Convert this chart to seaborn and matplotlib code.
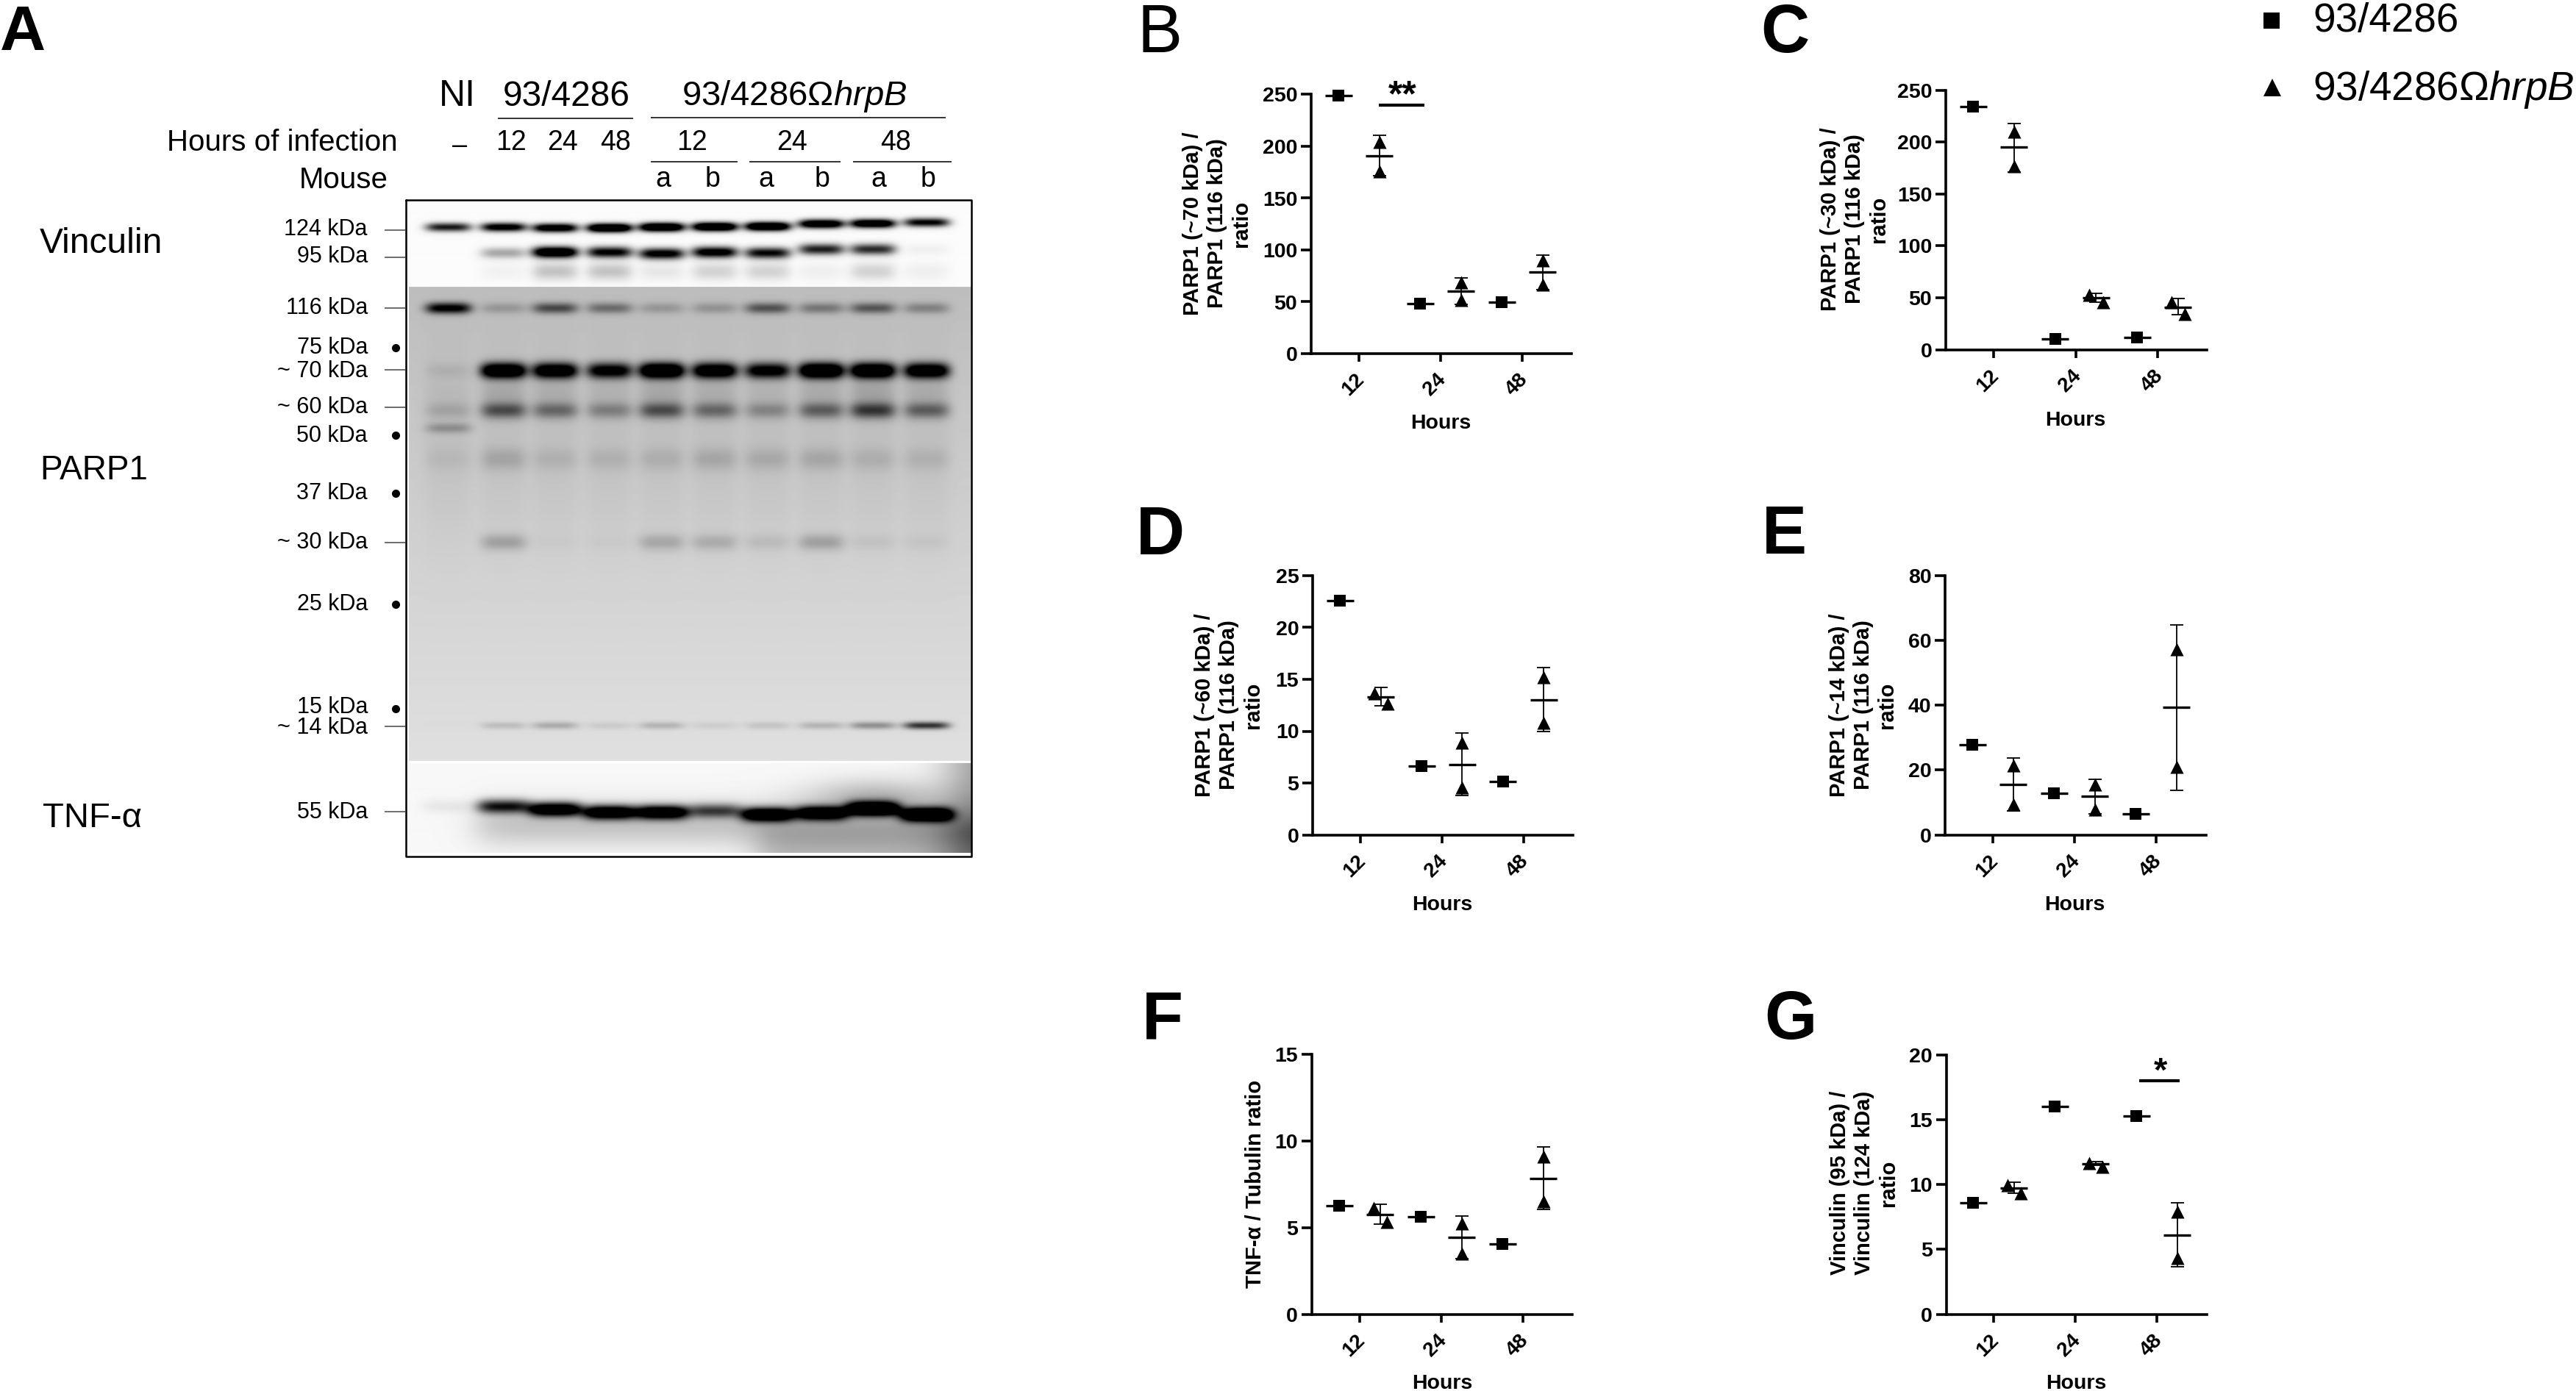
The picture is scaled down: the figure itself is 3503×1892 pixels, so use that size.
import numpy as np
import pandas as pd
import matplotlib
matplotlib.use("Agg")
import matplotlib.pyplot as plt
from matplotlib.transforms import ScaledTranslation
import seaborn as sns

sns.set_theme(style="ticks")
plt.rcParams['font.family'] = ['Liberation Sans', 'DejaVu Sans']
plt.rcParams['mathtext.fontset'] = 'custom'
plt.rcParams['mathtext.rm'] = 'Liberation Sans'
plt.rcParams['mathtext.it'] = 'Liberation Sans:italic'
plt.rcParams['mathtext.bf'] = 'Liberation Sans:bold'

HOURS = ['12', '24', '48']
STRAIN_A = '93/4286'
STRAIN_B = '93/4286$\\mathit{Ω hrpB}$'

# ---- values ----
B_SQ = [249, 48.2, 49.9]
B_T1 = [204, 68.6, 90]
B_T2 = [176, 51.6, 66.4]
B_MEAN = [191, 60.2, 78.7]
B_HI = [210.5, 72.8, 95.3]
B_LO = [171.5, 47.5, 61.6]

C_SQ = [233.8, 10.6, 11.8]
C_T1 = [210, 52.6, 45.6]
C_T2 = [176.6, 45.6, 34.4]
C_MEAN = [194.8, 50, 41]
C_HI = [217.8, 54.3, 49.3]
C_LO = [171.3, 45.4, 33.3]

D_SQ = [22.6, 6.6, 5.16]
D_T1 = [13.66, 8.92, 15.2]
D_T2 = [12.65, 4.55, 10.8]
D_MEAN = [13.27, 6.8, 13.0]
D_HI = [14.2, 9.85, 16.1]
D_LO = [12.43, 3.8, 10.0]

E_SQ = [27.8, 12.9, 6.5]
E_T1 = [21.4, 15.5, 57.3]
E_T2 = [9.4, 7.9, 21.1]
E_MEAN = [15.5, 11.85, 39.3]
E_HI = [23.8, 17.1, 64.9]
E_LO = [7.3, 6.5, 13.7]

F_SQ = [6.25, 5.63, 4.07]
F_T1 = [6.13, 5.25, 9.1]
F_T2 = [5.33, 3.5, 6.5]
F_MEAN = [5.77, 4.44, 7.83]
F_HI = [6.36, 5.67, 9.64]
F_LO = [5.19, 3.2, 6.05]

G_SQ = [8.56, 15.99, 15.3]
G_T1 = [9.95, 11.67, 7.88]
G_T2 = [9.33, 11.35, 4.32]
G_MEAN = [9.72, 11.6, 6.12]
G_HI = [10.15, 11.77, 8.6]
G_LO = [9.3, 11.46, 3.68]

# ---- blot band strengths, one value per lane ----
LANE_X = [610, 685, 755, 829, 900, 972, 1044, 1117, 1187, 1260]
VINC_124 = [.75, .95, 1.05, 1.3, 1.3, 1.3, 1.3, 1.15, 1.15, .85]
VINC_124_Y = [310, 310, 311, 311, 310, 309.5, 309, 305.5, 305, 303.5]
VINC_95 = [0, .3, 1.3, .95, 1.0, 1.05, .9, .8, .75, .04]
VINC_95_Y = [345, 345, 344, 344, 346, 344, 345, 340, 340, 340]
VINC_LOW = [0, .04, .22, .22, .08, .16, .16, .05, .16, .05]
PARP_116 = [.95, .18, .55, .38, .18, .2, .5, .33, .48, .28]
PARP_70 = [.06, 1.25, 1.15, .95, 1.35, 1.15, .95, 1.35, 1.3, 1.15]
PARP_60 = [.12, .5, .38, .28, .5, .38, .25, .42, .6, .42]
PARP_50 = [.2, 0, 0, 0, 0, 0, 0, 0, 0, 0]
PARP_45 = [.04, .12, .07, .07, .08, .11, .1, .11, .08, .07]
PARP_30 = [0, .2, .02, .02, .17, .15, .08, .2, .05, .04]
PARP_14 = [.01, .14, .22, .08, .18, .07, .11, .18, .34, .75]
TNF_55 = [.06, .8, 1.2, 1.2, 1.2, .6, 1.25, 1.2, 1.4, 1.3]
TNF_55_Y = [1097, 1097, 1101, 1105, 1105, 1103, 1108, 1106, 1100, 1108]

W, H = 3503, 1892
fig = plt.figure(figsize=(W / 100, H / 100), dpi=100, facecolor='white')
panel_axes = []


def px_axes(l, r, t, b):
    return fig.add_axes([l / W, 1 - b / H, (r - l) / W, (b - t) / H])


def draw_panel(box, ticks_px, ymax, ystep, sq, t1, t2, mean, hi, lo, jitter):
    l, r, t, b = box
    ax = px_axes(l, r, t, b)
    ax.patch.set_alpha(0)
    step = (ticks_px[2] - ticks_px[0]) / 2
    base = np.arange(len(HOURS), dtype=float)
    off = 0.25
    j = np.asarray(jitter, dtype=float)
    df_sq = pd.DataFrame({'pos': base - off, 'value': sq})
    df_tri = pd.DataFrame({'pos': np.r_[base + off - j, base + off + j],
                           'value': np.r_[t1, t2]})
    sns.scatterplot(data=df_sq, x='pos', y='value', marker='s', s=125, color='black',
                    linewidth=0, legend=False, ax=ax, clip_on=False, zorder=3)
    sns.scatterplot(data=df_tri, x='pos', y='value', marker='^', s=170, color='black',
                    linewidth=0, legend=False, ax=ax, clip_on=False, zorder=3)
    ax.hlines(sq, base - off - 0.167, base - off + 0.167, color='black', lw=2.4, zorder=4)
    ax.hlines(mean, base + off - 0.167, base + off + 0.167, color='black', lw=2.4, zorder=4)
    m = np.asarray(mean, dtype=float)
    ax.errorbar(base + off, m, yerr=[m - np.asarray(lo), np.asarray(hi) - m], fmt='none',
                ecolor='black', elinewidth=1.3, capsize=6.5, capthick=1.3, zorder=2)
    ax.set_xlim((l - ticks_px[0]) / step, (r - ticks_px[0]) / step)
    ax.set_ylim(0, ymax)
    ax.set_xticks(base)
    ax.set_xticklabels(HOURS, rotation=45, ha='right', rotation_mode='anchor')
    ax.set_yticks(np.arange(0, ymax + ystep, ystep))
    ax.tick_params(axis='y', length=10, width=2.6, pad=3.5, labelsize=20.5, color='black',
                   labelcolor='black')
    ax.tick_params(axis='x', length=8, width=2.6, pad=8, labelsize=20, color='black',
                   labelcolor='black')
    ax.set_xlabel('')
    ax.set_ylabel('')
    sns.despine(ax=ax)
    for s in ('left', 'bottom'):
        ax.spines[s].set_linewidth(2.6)
        ax.spines[s].set_color('black')
    panel_axes.append(ax)
    return ax


JIT_NONE = [0, 0, 0]
draw_panel((1783, 2137, 128.5, 481), (1848, 1959, 2070), 250, 50,
           B_SQ, B_T1, B_T2, B_MEAN, B_HI, B_LO, JIT_NONE)
draw_panel((2646, 3001, 122.5, 475.5), (2711, 2822, 2934), 250, 50,
           C_SQ, C_T1, C_T2, C_MEAN, C_HI, C_LO, [0, .084, .081])
draw_panel((1785, 2138.5, 783, 1135.5), (1850, 1960, 2071.5), 25, 5,
           D_SQ, D_T1, D_T2, D_MEAN, D_HI, D_LO, [.082, 0, 0])
draw_panel((2645, 3000, 783, 1135.5), (2710, 2821, 2932), 80, 20,
           E_SQ, E_T1, E_T2, E_MEAN, E_HI, E_LO, JIT_NONE)
draw_panel((1783.5, 2138, 1434, 1787.5), (1849, 1960, 2071), 15, 5,
           F_SQ, F_T1, F_T2, F_MEAN, F_HI, F_LO, [.082, 0, 0])
draw_panel((2646.5, 3000.5, 1434.6, 1787.5), (2711, 2822, 2933), 20, 5,
           G_SQ, G_T1, G_T2, G_MEAN, G_HI, G_LO, [.082, .082, 0])

# ---- synthesised blot picture ----
X0, X1, Y0, Y1 = 553, 1321, 273, 1160
xx, yy = np.meshgrid(np.arange(X0, X1) + .5, np.arange(Y0, Y1) + .5)


def lane_prof(cx, w=31.0):
    return np.exp(-np.abs((xx - cx) / w) ** 4)


def band(strengths, ys, sy, w=31.0):
    out = np.zeros_like(xx)
    ys = np.full(len(LANE_X), ys, dtype=float) if np.isscalar(ys) else ys
    for cx, s, cy in zip(LANE_X, strengths, ys):
        if s:
            out += s * lane_prof(cx, w) * np.exp(-((yy - cy) / sy) ** 2)
    return out


def rise(v, at, width):
    return 0.5 * (1 + np.tanh((v - at) / width))


img = np.ones_like(xx)
# vinculin strip
m1 = yy < 391
top = 0.985 - band(VINC_124, VINC_124_Y, 6.0) * 1.2 - band(VINC_95, VINC_95_Y, 7.5) * 1.1 \
      - band(VINC_LOW, 370, 12.0)
img[m1] = top[m1]
# PARP strip
m2 = (yy >= 391) & (yy < 1035)
pbg = np.interp(yy, [391, 480, 620, 800, 1035], [.74, .76, .79, .83, .875])
lanes = sum(lane_prof(c, 33) for c in LANE_X)
pbg = pbg - 0.035 * lanes * np.exp(-((yy - 600) / 130.0) ** 2)
parp = pbg - band(PARP_116, 420, 7.5) * .85 - band(PARP_70, 505, 10.5) * .95 \
       - band(PARP_60, 559, 11.0) * .9 - band(PARP_60, 535, 18.0) * .18 \
       - band(PARP_50, 583, 7.0) - band(PARP_45, 625, 15.0) - band(PARP_30, 738, 11.0) * .9 \
       - band(PARP_14, 987, 5.0) * .9
img[m2] = parp[m2]
# TNF strip
m3 = yy >= 1038
tbg = 0.97 - 0.20 * rise(xx, 650, 25) * np.exp(-((yy - 1122) / 30.0) ** 2)
tbg -= 0.24 * rise(xx, 1030, 25) * rise(yy, 1125, 18)
tbg -= 0.32 * np.exp(-((xx - 1335) / 55.0) ** 2)
tbg -= 0.24 * np.exp(-((xx - 1190) / 90.0) ** 2) * np.exp(-((yy - 1085) / 25.0) ** 2)
tnf = tbg - band(TNF_55, TNF_55_Y, 9.5, 36.0) * 1.05
img[m3] = tnf[m3]
img[(yy >= 1035) & (yy < 1038)] = 1
img[(xx < 556) & (yy >= 391)] = 1
img = np.clip(img, 0, 1)

bax = px_axes(X0, X1, Y0, Y1)
bax.imshow(img, cmap='gray', vmin=0, vmax=1, aspect='auto', interpolation='bilinear')
bax.axis('off')

# ---- overlay in pixel coordinates for annotations ----
ov = fig.add_axes([0, 0, 1, 1], zorder=10)
ov.set_xlim(0, W)
ov.set_ylim(H, 0)
ov.axis('off')
ov.patch.set_alpha(0)


def T(x, y, s, size, ha='center', va='center', **kw):
    ov.text(x, y, s, fontsize=size, ha=ha, va=va, color='black', **kw)


def L(x0, x1, y0, y1, lw=1.4, c='#333333'):
    ov.plot([x0, x1], [y0, y1], color=c, lw=lw, solid_capstyle='butt')


# frame of the blot
ov.plot([552, 1321, 1321, 552, 552], [272.5, 272.5, 1164.5, 1164.5, 272.5], color='black', lw=1.8)

for ltr, x, y, wt in [('A', 0, 68, 'bold'), ('B', 1546, 71, 'normal'), ('C', 2394, 71, 'bold'),
                      ('D', 1545, 754, 'bold'), ('E', 2396, 753, 'bold'),
                      ('F', 1553, 1412, 'bold'), ('G', 2399, 1413, 'bold')]:
    T(x, y, ltr, 66 if ltr != 'A' else 62, ha='left', va='baseline', fontweight=wt)

T(622, 131, 'NI', 36)
T(770, 131, STRAIN_A, 34.5)
T(1080, 131, STRAIN_B, 34)
L(677, 861, 161, 161)
L(885, 1286, 160, 160)
T(541, 194, 'Hours of infection', 29, ha='right')
T(625, 198, '–', 26)
for x, s in zip([695, 765, 837, 941, 1077, 1218], HOURS * 2):
    T(x, 194.5, s, 27)
for a, b in [(885, 1003), (1019, 1143), (1160, 1294)]:
    L(a, b, 220, 220)
T(467, 245, 'Mouse', 29)
for x, s in zip([902, 969, 1042, 1118, 1195, 1262], ['a', 'b'] * 3):
    T(x, 244, s, 27)

T(54, 332, 'Vinculin', 34.5, ha='left')
T(54, 640, 'PARP1', 33, ha='left')
T(58, 1113, 'TNF-α', 34, ha='left')

KDA = [('124 kDa', 312), ('95 kDa', 349), ('116 kDa', 419), ('75 kDa', 473), ('~ 70 kDa', 505),
       ('~ 60 kDa', 554), ('50 kDa', 593), ('37 kDa', 671), ('~ 30 kDa', 738), ('25 kDa', 822),
       ('15 kDa', 962), ('~ 14 kDa', 990), ('55 kDa', 1105)]
for s, y in KDA:
    T(500, y, s, 22, ha='right')
for y in [313, 350.5, 419, 503, 554, 738, 988, 1104]:
    L(523, 551, y, y, lw=1.2, c='#555555')
ov.plot([538] * 5, [473, 592, 671, 822, 963.6], ls='none', marker='o', ms=8, color='black', mew=0)

# y titles
YL = dict(fontsize=21, fontweight='bold', rotation=90, ha='center', va='center',
          multialignment='center', linespacing=1.22, color='black')
ov.text(1655, 304, 'PARP1 (~70 kDa) /\nPARP1 (116 kDa)\nratio', **YL)
ov.text(2522, 298, 'PARP1 (~30 kDa) /\nPARP1 (116 kDa)\nratio', **YL)
ov.text(1671, 959, 'PARP1 (~60 kDa) /\nPARP1 (116 kDa)\nratio', **YL)
ov.text(2533.5, 959, 'PARP1 (~14 kDa) /\nPARP1 (116 kDa)\nratio', **YL)
ov.text(1707, 1610.5, 'TNF-α / Tubulin ratio', **YL)
ov.text(2535, 1609, 'Vinculin (95 kDa) /\nVinculin (124 kDa)\nratio', **YL)

for x, y in [(1959.5, 576), (2822, 572), (1961, 1231), (2821.5, 1231), (1961, 1882), (2823, 1882)]:
    T(x, y, 'Hours', 20.5, fontweight='bold')

# significance marks
ov.plot([1874.6, 1937], [143, 143], color='black', lw=3, solid_capstyle='butt')
T(1907, 144, '**', 36, va='baseline', fontweight='bold')
ov.plot([2908.6, 2964.4], [1470, 1470], color='black', lw=3, solid_capstyle='butt')
T(2938.5, 1471, '*', 34, va='baseline', fontweight='bold')

# legend
ov.plot([3089], [27.7], marker='s', ms=16, color='black', mew=0, ls='none')
ov.plot([3090], [118.6], marker='^', ms=17, color='black', mew=0, ls='none')
T(3145, 29, STRAIN_A, 39.5, ha='left')
T(3145, 122, STRAIN_B, 39.5, ha='left')

# bold tick labels, applied once the ticks exist
fig.canvas.draw()
shift = ScaledTranslation(-6 / 100, 0, fig.dpi_scale_trans)
for ax in panel_axes:
    for lab in ax.get_yticklabels():
        lab.set_fontweight('bold')
    for lab in ax.get_xticklabels():
        lab.set_fontweight('bold')
        lab.set_transform(lab.get_transform() + shift)

fig.savefig('out.png', dpi=100, facecolor='white')
